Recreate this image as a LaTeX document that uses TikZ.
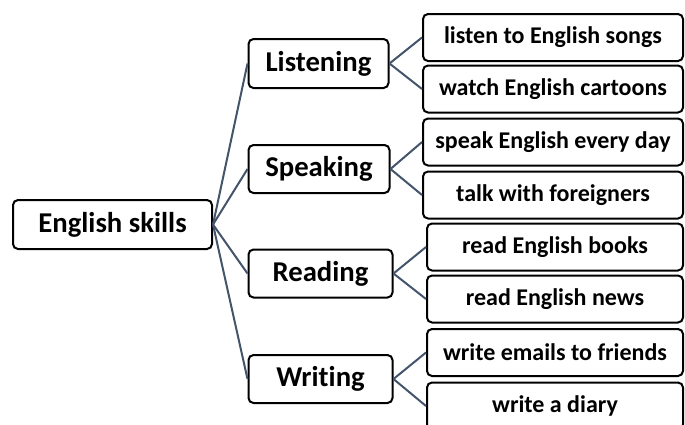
\documentclass[tikz,border=0pt]{standalone}
\usepackage{fontspec}
\setmainfont{Carlito}[Ligatures = NoCommon]
\definecolor{linkcol}{HTML}{44546A}
\begin{document}
\begin{tikzpicture}[x = 1pt, y = -1pt,
    box/.style = {draw, line width = 2pt, rounded corners = 5pt, inner sep = 0pt, font = \bfseries\fontsize{28.7}{32}\selectfont},
    leaf/.style = {box, font = \bfseries\fontsize{24}{28}\selectfont, minimum height = 47pt},
    link/.style = {draw = linkcol, line width = 2pt}]
    \useasboundingbox (0,0) rectangle (685,424);
    \node [box, minimum width = 199pt, minimum height = 49pt] (skills) at (112.5,224.5) {English skills};
    \node [box, minimum width = 140pt, minimum height = 49pt] (listen) at (318.5,63.5) {Listening};
    \node [box, minimum width = 141pt, minimum height = 48pt] (speak) at (319,169) {Speaking};
    \node [box, minimum width = 144pt, minimum height = 48pt] (read) at (320.5,273.5) {Reading};
    \node [box, minimum width = 144pt, minimum height = 48pt] (write) at (320.5,379) {Writing};
    % leaves
    \node [leaf, minimum width = 260pt] (songs) at (553,37.5) {listen to English songs};
    \node [leaf, minimum width = 260pt] (cartoons) at (553,89) {watch English cartoons};
    \node [leaf, minimum width = 260pt] (everyday) at (553,142) {speak English every day};
    \node [leaf, minimum width = 260pt] (foreign) at (553,195) {talk with foreigners};
    \node [leaf, minimum width = 256pt] (books) at (555,247) {read English books};
    \node [leaf, minimum width = 256pt] (news) at (555,299) {read English news};
    \node [leaf, minimum width = 256pt] (emails) at (555,352.5) {write emails to friends};
    \node [leaf, minimum width = 256pt] (diary) at (555,406) {write a diary};
    \foreach \b in {listen, speak, read, write}
      \path [link] (skills.east) -- (\b.west);
    \path [link] (listen.east) -- (songs.west);
    \path [link] (listen.east) -- (cartoons.west);
    \path [link] (speak.east) -- (everyday.west);
    \path [link] (speak.east) -- (foreign.west);
    \path [link] (read.east) -- (books.west);
    \path [link] (read.east) -- (news.west);
    \path [link] (write.east) -- (emails.west);
    \path [link] (write.east) -- (diary.west);
\end{tikzpicture}
\end{document}
